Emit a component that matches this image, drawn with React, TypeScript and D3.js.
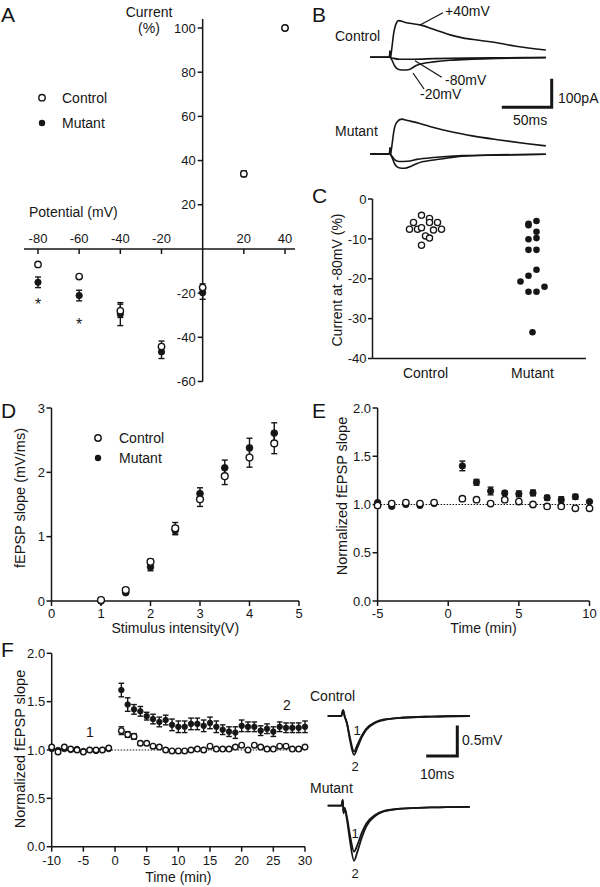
import React from "react";
import * as d3 from "d3";

const FONT = '"Liberation Sans", Arial, Helvetica, sans-serif';
const INK = "#161616";

// ---------------- Panel A : I-V relation ----------------
const ivPotential = [-80, -60, -40, -20, 0, 20, 40];
const ivControl = [-7, -12.5, -28, -44.2, -17.5, 34, 100];
const ivControlErr = [0, 0, 3, 2.5, 1.7, 1.2, 0];
const ivMutant = [-15.1, -21.1, -29.5, -46.6, -19.8, 34, 100];
const ivMutantErr = [2.4, 2.4, 5.2, 3, 3, 1.2, 0];
const ivStarPotential = [-80, -60];
const ivStarLevel = [-24.6, -33.3];
const ivXTicks = [-80, -60, -40, -20, 20, 40];
const ivYTicks = [-60, -40, -20, 20, 40, 60, 80, 100];

// ---------------- Panel B : current traces (ms, pA) ----------------
const bCtrlP40: [number, number][] = [[-20.5, 0], [-0.5, 0], [0, 22], [0.6, 2], [2, 37], [4, 93], [6, 122], [9, 136], [14, 131], [20, 126], [31, 120], [45, 104], [62, 83], [75, 72], [92, 63], [113, 52], [130, 41], [161, 27]];
const bCtrlM20: [number, number][] = [[-20.5, 0], [-0.5, 0], [0, 22], [0.6, 0], [2, -10], [5, -33], [9, -45], [14, -47], [20, -45], [27, -30], [35, -22], [45, -17], [62, -11], [85, -7], [113, -4], [161, -1]];
const bCtrlM80: [number, number][] = [[-20.5, 0], [-0.5, 0], [0, 22], [0.6, 0], [4, -4], [10, -7], [25, -7], [45, -5], [80, -3], [120, -1.5], [161, -0.5]];
const bMutP40: [number, number][] = [[-20.5, 0], [-0.5, 0], [0, 22], [0.6, 2], [2, 32], [4, 85], [7, 118], [12, 129], [18, 124], [30, 114], [45, 98], [62, 83], [85, 67], [113, 52], [140, 39], [161, 30]];
const bMutM80: [number, number][] = [[-20.5, 0], [-0.5, 0], [0, 22], [0.6, 0], [2, -8], [5, -22], [9, -28], [18, -27], [28, -20], [45, -13], [75, -6], [110, -3], [161, -1]];
const bMutM20: [number, number][] = [[-20.5, 0], [-0.5, 0], [0, 22], [0.6, 0], [2, -12], [5, -38], [9, -51], [15, -53], [22, -45], [28, -35], [45, -22], [62, -14], [75, -8], [110, -4], [161, -1]];
const bScaleMs = 50;
const bScalePa = 100;

// ---------------- Panel C : current at -80 mV ----------------
const cGroups = ["Control", "Mutant"];
const cControlPct = [-4.1, -4.9, -5.9, -5.9, -5.9, -7.6, -7.6, -7.2, -7.8, -7.6, -9.25, -9.8, -11.6];
const cControlSlot = [-1, 1, -3, 1, 3, -4, -2, -1, 2, 4, 0, 1, -1];
const cMutantPct = [-5.5, -6.2, -6.6, -8.2, -9.8, -10.1, -12.75, -12.75, -17.75, -19.25, -20.7, -22, -23.25, -23.25, -33.4];
const cMutantSlot = [1, -1, -1, 1, 1, -1, -1, 1, 1, -1, -3, 3, -1, 1, 0];
const cYTicks = [0, -10, -20, -30, -40];

// ---------------- Panel D : input-output ----------------
const ioIntensity = [1, 1.5, 2, 2.5, 3, 3.5, 4, 4.5];
const ioControl = [0.015, 0.17, 0.61, 1.13, 1.58, 1.94, 2.23, 2.45];
const ioControlErr = [0.01, 0.03, 0.04, 0.09, 0.11, 0.13, 0.15, 0.16];
const ioMutant = [0.0, 0.13, 0.53, 1.1, 1.67, 2.07, 2.38, 2.61];
const ioMutantErr = [0.01, 0.02, 0.06, 0.07, 0.09, 0.12, 0.15, 0.16];
const dXTicks = [0, 1, 2, 3, 4, 5];
const dYTicks = [0, 1, 2, 3];

// ---------------- Panel E : PTP ----------------
const eTime = [-5, -4, -3, -2, -1, 1, 2, 3, 4, 5, 6, 7, 8, 9, 10];
const eControl = [0.99, 1.01, 1.02, 1.01, 1.02, 1.06, 1.05, 1.01, 1.05, 1.03, 1.0, 0.98, 0.98, 0.96, 0.96];
const eControlErr = [0.01, 0.01, 0.01, 0.01, 0.01, 0.02, 0.01, 0.01, 0.01, 0.01, 0.01, 0.01, 0.01, 0.01, 0.01];
const eMutant = [1.02, 0.98, 1.0, 0.99, 1.01, 1.4, 1.23, 1.14, 1.12, 1.11, 1.12, 1.07, 1.05, 1.08, 1.03];
const eMutantErr = [0.01, 0.01, 0.01, 0.01, 0.01, 0.05, 0.03, 0.04, 0.02, 0.03, 0.03, 0.025, 0.03, 0.025, 0.01];
const eXTicks = [-5, 0, 5, 10];
const eYTicks = [0, 0.5, 1, 1.5, 2];

// ---------------- Panel F : LTP ----------------
const fTime = [-10, -9, -8, -7, -6, -5, -4, -3, -2, -1, 1, 2, 3, 4, 5, 6, 7, 8, 9, 10, 11, 12, 13, 14, 15, 16, 17, 18, 19, 20, 21, 22, 23, 24, 25, 26, 27, 28, 29, 30];
const fControl = [1.03, 0.98, 1.03, 1.01, 1.0, 0.98, 1.0, 1.0, 1.0, 1.02, 1.2, 1.16, 1.14, 1.07, 1.07, 1.04, 1.03, 1.0, 0.99, 0.99, 0.99, 1.0, 1.01, 1.0, 1.04, 1.01, 1.01, 1.01, 1.03, 1.05, 1.0, 1.05, 1.03, 1.01, 1.01, 1.04, 1.04, 1.01, 1.01, 1.03];
const fControlErr = [0.01, 0.01, 0.01, 0.01, 0.01, 0.01, 0.01, 0.01, 0.01, 0.01, 0.04, 0.03, 0.03, 0.02, 0.015, 0.015, 0.01, 0.01, 0.01, 0.01, 0.01, 0.01, 0.01, 0.01, 0.01, 0.01, 0.01, 0.01, 0.01, 0.01, 0.01, 0.01, 0.01, 0.01, 0.01, 0.01, 0.01, 0.015, 0.015, 0.01];
const fMutant = [1.01, 1.0, 1.01, 1.0, 1.01, 0.99, 1.0, 0.99, 1.0, 1.01, 1.62, 1.47, 1.42, 1.4, 1.35, 1.32, 1.29, 1.31, 1.26, 1.24, 1.24, 1.27, 1.27, 1.25, 1.28, 1.24, 1.21, 1.19, 1.18, 1.25, 1.24, 1.24, 1.2, 1.22, 1.19, 1.24, 1.23, 1.23, 1.23, 1.24];
const fMutantErr = [0.01, 0.01, 0.01, 0.01, 0.01, 0.01, 0.01, 0.01, 0.01, 0.01, 0.07, 0.07, 0.05, 0.05, 0.04, 0.05, 0.05, 0.05, 0.06, 0.06, 0.06, 0.06, 0.06, 0.06, 0.06, 0.06, 0.05, 0.05, 0.06, 0.06, 0.05, 0.05, 0.05, 0.05, 0.05, 0.05, 0.05, 0.05, 0.05, 0.06];
const fXTicks = [-10, -5, 0, 5, 10, 15, 20, 25, 30];
const fYTicks = [0, 0.5, 1, 1.5, 2];

// fEPSP traces (ms, mV)
const fCtrl1: [number, number][] = [[0, 0], [4.6, 0], [5.2, 0.1], [5.7, 0], [6.5, -0.12], [7.5, -0.37], [8.9, -0.61], [10, -0.5], [11.5, -0.34], [13, -0.22], [16, -0.11], [19, -0.06], [25, -0.03], [35, -0.01], [48, 0]];
const fCtrl2: [number, number][] = [[0, 0], [4.6, 0], [5.2, 0.1], [5.7, 0], [6.5, -0.13], [7.5, -0.41], [8.9, -0.67], [10, -0.55], [11.5, -0.37], [13, -0.24], [16, -0.12], [19, -0.07], [25, -0.03], [35, -0.01], [48, 0]];
const fMut1: [number, number][] = [[0, 0], [4.6, 0], [5.1, 0.1], [5.35, -0.13], [5.7, -0.04], [6.5, -0.2], [7.5, -0.5], [8.9, -0.79], [10, -0.68], [11.5, -0.47], [13, -0.31], [16, -0.16], [19, -0.09], [25, -0.05], [35, -0.03], [48, -0.02]];
const fMut2: [number, number][] = [[0, 0], [4.6, 0], [5.1, 0.1], [5.35, -0.13], [5.7, -0.04], [6.5, -0.24], [7.5, -0.6], [8.9, -0.95], [10, -0.8], [11.5, -0.55], [13, -0.36], [16, -0.18], [19, -0.1], [25, -0.05], [35, -0.03], [48, -0.02]];
const fScaleMs = 10;
const fScaleMv = 0.5;

type Lin = d3.ScaleLinear<number, number>;

const fmtInt = (t: number) => String(t);
const fmt1 = (t: number) => (t < 0 ? "-" : "") + Math.abs(t).toFixed(1);

function LeftAxis({ y, x, ticks, fmt, top, bottom, size = 13, len = 5 }: { y: Lin; x: number; ticks: number[]; fmt: (t: number) => string; top: number; bottom: number; size?: number; len?: number }) {
  return (
    <g>
      <line x1={x} x2={x} y1={top} y2={bottom} stroke={INK} strokeWidth={1.5} />
      {ticks.map((t) => (
        <g key={t}>
          <line x1={x - len} x2={x} y1={y(t)} y2={y(t)} stroke={INK} strokeWidth={1.5} />
          <text x={x - len - 1.5} y={y(t) + size * 0.36} fontSize={size} textAnchor="end" fill={INK}>{fmt(t)}</text>
        </g>
      ))}
    </g>
  );
}

function BottomAxis({ x, y0, ticks, fmt, left, right, size = 13, len = 5, labelY }: { x: Lin; y0: number; ticks: number[]; fmt: (t: number) => string; left: number; right: number; size?: number; len?: number; labelY: number }) {
  return (
    <g>
      <line x1={left} x2={right} y1={y0} y2={y0} stroke={INK} strokeWidth={1.5} />
      {ticks.map((t) => (
        <g key={t}>
          <line x1={x(t)} x2={x(t)} y1={y0} y2={y0 + len} stroke={INK} strokeWidth={1.5} />
          <text x={x(t)} y={labelY} fontSize={size} textAnchor="middle" fill={INK}>{fmt(t)}</text>
        </g>
      ))}
    </g>
  );
}

function ErrBar({ x, ya, yb, cap = 3, w = 1.4 }: { x: number; ya: number; yb: number; cap?: number; w?: number }) {
  return (
    <g stroke={INK} strokeWidth={w}>
      <line x1={x} x2={x} y1={ya} y2={yb} />
      <line x1={x - cap} x2={x + cap} y1={ya} y2={ya} />
      <line x1={x - cap} x2={x + cap} y1={yb} y2={yb} />
    </g>
  );
}

function Series({ xs, ys, errs, sx, sy, filled, r, cap = 3 }: { xs: number[]; ys: number[]; errs: number[]; sx: Lin; sy: Lin; filled: boolean; r: number; cap?: number }) {
  return (
    <g>
      {xs.map((xv, i) =>
        errs[i] > 0 ? <ErrBar key={"e" + i} x={sx(xv)} ya={sy(ys[i] + errs[i])} yb={sy(ys[i] - errs[i])} cap={cap} /> : null
      )}
      {xs.map((xv, i) => (
        <circle key={"c" + i} cx={sx(xv)} cy={sy(ys[i])} r={r} fill={filled ? INK : "#fff"} stroke={INK} strokeWidth={filled ? 0.8 : 1.4} />
      ))}
    </g>
  );
}

function Trace({ pts, sx, sy, w = 1.5 }: { pts: [number, number][]; sx: Lin; sy: Lin; w?: number }) {
  const gen = d3.line<[number, number]>().x((d) => sx(d[0])).y((d) => sy(d[1])).curve(d3.curveMonotoneX);
  return <path d={gen(pts) || ""} fill="none" stroke={INK} strokeWidth={w} strokeLinejoin="round" />;
}

export default function App() {
  // ---- A scales ----
  const ax = d3.scaleLinear().domain([-80, 40]).range([38, 285]);
  const ay = d3.scaleLinear().domain([-60, 100]).range([381.5, 28]);
  const ay0 = ay(0);

  // ---- B scales ----
  const bx = d3.scaleLinear().domain([0, 50]).range([390, 438.4]);
  const byC = d3.scaleLinear().domain([0, 100]).range([57.3, 30.3]);
  const byM = d3.scaleLinear().domain([0, 100]).range([154, 127]);
  const bBarX = 551.7;
  const bBarY = 107.3;

  // ---- C scales ----
  const cx = d3.scalePoint<string>().domain(cGroups).range([372, 586]).padding(0.5);
  const cy = d3.scaleLinear().domain([-40, 0]).range([358.5, 199]);
  const slotW = 4;

  // ---- D scales ----
  const dx = d3.scaleLinear().domain([0, 5]).range([51.5, 299]);
  const dy = d3.scaleLinear().domain([0, 3]).range([601, 408]);

  // ---- E scales ----
  const ex = d3.scaleLinear().domain([-5, 10]).range([377.6, 589.5]);
  const ey = d3.scaleLinear().domain([0, 2]).range([601, 408]);

  // ---- F scales ----
  const fx = d3.scaleLinear().domain([-10, 30]).range([51.7, 305]);
  const fy = d3.scaleLinear().domain([0, 2]).range([846.7, 653.3]);
  const tx = d3.scaleLinear().domain([0, 10]).range([327.7, 357.3]);
  const tyC = d3.scaleLinear().domain([0, 0.5]).range([716, 687]);
  const tyM = d3.scaleLinear().domain([0, 0.5]).range([805.7, 776.7]);
  const fBarX = 457.3;
  const fBarY = 756;

  const letter = (s: string, x: number, y: number) => (
    <text x={x} y={y} fontSize={21} fill={INK}>{s}</text>
  );

  return (
    <svg width={600} height={887} viewBox="0 0 600 887" style={{ position: "absolute", left: 0, top: 0 }} fontFamily={FONT}>
      <rect width={600} height={887} fill="#fff" />

      {/* ================= A ================= */}
      {letter("A", 1, 22)}
      <text x={149} y={16.5} fontSize={14} textAnchor="middle" fill={INK}>Current</text>
      <text x={149} y={33} fontSize={14} textAnchor="middle" fill={INK}>(%)</text>
      <text x={29} y={217} fontSize={14} fill={INK}>Potential (mV)</text>
      <g>
        <line x1={ax(0)} x2={ax(0)} y1={19} y2={ay(-60)} stroke={INK} strokeWidth={1.5} />
        {ivYTicks.map((t) => (
          <g key={t}>
            <line x1={ax(0) - 5} x2={ax(0)} y1={ay(t)} y2={ay(t)} stroke={INK} strokeWidth={1.5} />
            <text x={ax(0) - 7} y={ay(t) + 4.7} fontSize={13} textAnchor="end" fill={INK}>{fmtInt(t)}</text>
          </g>
        ))}
      </g>
      <g>
        <line x1={24} x2={295} y1={ay0} y2={ay0} stroke={INK} strokeWidth={1.5} />
        {ivXTicks.map((t) => (
          <g key={t}>
            <line x1={ax(t)} x2={ax(t)} y1={ay0} y2={ay0 + 5} stroke={INK} strokeWidth={1.5} />
            <text x={ax(t)} y={ay0 - 5.5} fontSize={13} textAnchor="middle" fill={INK}>{fmtInt(t)}</text>
          </g>
        ))}
      </g>
      <Series xs={ivPotential} ys={ivMutant} errs={ivMutantErr} sx={ax} sy={ay} filled r={3.2} />
      <Series xs={ivPotential} ys={ivControl} errs={ivControlErr} sx={ax} sy={ay} filled={false} r={3.2} />
      {ivStarPotential.map((p, i) => (
        <text key={p} x={ax(p)} y={ay(ivStarLevel[i]) + 7} fontSize={16} textAnchor="middle" fill={INK}>*</text>
      ))}
      <circle cx={42} cy={97.7} r={3.2} fill="#fff" stroke={INK} strokeWidth={1.4} />
      <text x={62} y={102.5} fontSize={14} fill={INK}>Control</text>
      <circle cx={42} cy={123} r={3.2} fill={INK} />
      <text x={62} y={128} fontSize={14} fill={INK}>Mutant</text>

      {/* ================= B ================= */}
      {letter("B", 312, 22)}
      <text x={335} y={40.5} fontSize={14} fill={INK}>Control</text>
      <text x={335} y={136} fontSize={14} fill={INK}>Mutant</text>
      <Trace pts={bCtrlM80} sx={bx} sy={byC} w={1.6} />
      <Trace pts={bCtrlM20} sx={bx} sy={byC} w={1.6} />
      <Trace pts={bCtrlP40} sx={bx} sy={byC} w={1.6} />
      <Trace pts={bMutM80} sx={bx} sy={byM} w={1.6} />
      <Trace pts={bMutM20} sx={bx} sy={byM} w={1.6} />
      <Trace pts={bMutP40} sx={bx} sy={byM} w={1.6} />
      <g stroke={INK} strokeWidth={1.3}>
        <line x1={420} y1={25} x2={443} y2={12.7} />
        <line x1={415} y1={60.7} x2={441.7} y2={77.3} />
        <line x1={413} y1={73} x2={424} y2={89} />
      </g>
      <text x={445} y={15.5} fontSize={14} fill={INK}>+40mV</text>
      <text x={445} y={84.5} fontSize={14} fill={INK}>-80mV</text>
      <text x={420} y={98.5} fontSize={14} fill={INK}>-20mV</text>
      <path
        d={`M${bBarX - (bx(bScaleMs) - bx(0))},${bBarY} H${bBarX} V${bBarY - (byC(0) - byC(bScalePa))}`}
        fill="none" stroke={INK} strokeWidth={3} strokeLinecap="square"
      />
      <text x={558} y={103} fontSize={14} fill={INK}>100pA</text>
      <text x={513} y={125} fontSize={14} fill={INK}>50ms</text>

      {/* ================= C ================= */}
      {letter("C", 312, 203)}
      <LeftAxis y={cy} x={372.5} ticks={cYTicks} fmt={fmtInt} top={cy(0)} bottom={cy(-40)} len={4.5} />
      <line x1={372.5} x2={586} y1={cy(-40)} y2={cy(-40)} stroke={INK} strokeWidth={1.5} />
      {cGroups.map((g) => (
        <text key={g} x={cx(g)!} y={378} fontSize={14} textAnchor="middle" fill={INK}>{g}</text>
      ))}
      <text transform={`translate(342,280) rotate(-90)`} fontSize={14} textAnchor="middle" fill={INK}>Current at -80mV (%)</text>
      {cControlPct.map((v, i) => (
        <circle key={"cc" + i} cx={cx("Control")! + cControlSlot[i] * slotW} cy={cy(v)} r={3.1} fill="#fff" stroke={INK} strokeWidth={1.3} />
      ))}
      {cMutantPct.map((v, i) => (
        <circle key={"cm" + i} cx={cx("Mutant")! + cMutantSlot[i] * slotW} cy={cy(v)} r={3.3} fill={INK} />
      ))}

      {/* ================= D ================= */}
      {letter("D", 1, 418)}
      <LeftAxis y={dy} x={dx(0)} ticks={dYTicks} fmt={fmtInt} top={dy(3)} bottom={dy(0)} />
      <BottomAxis x={dx} y0={dy(0)} ticks={dXTicks} fmt={fmtInt} left={dx(0)} right={dx(5)} labelY={618} />
      <text x={dx(2.5)} y={633} fontSize={14} textAnchor="middle" fill={INK}>Stimulus intensity(V)</text>
      <text transform={`translate(25,498) rotate(-90)`} fontSize={14.5} textAnchor="middle" fill={INK}>fEPSP slope (mV/ms)</text>
      <Series xs={ioIntensity} ys={ioMutant} errs={ioMutantErr} sx={dx} sy={dy} filled r={3.4} />
      <Series xs={ioIntensity} ys={ioControl} errs={ioControlErr} sx={dx} sy={dy} filled={false} r={3.4} />
      <circle cx={98} cy={438} r={3.2} fill="#fff" stroke={INK} strokeWidth={1.4} />
      <text x={119} y={443} fontSize={14} fill={INK}>Control</text>
      <circle cx={98} cy={458} r={3.2} fill={INK} />
      <text x={119} y={463} fontSize={14} fill={INK}>Mutant</text>

      {/* ================= E ================= */}
      {letter("E", 312, 418)}
      <LeftAxis y={ey} x={ex(-5)} ticks={eYTicks} fmt={fmt1} top={ey(2)} bottom={ey(0)} />
      <BottomAxis x={ex} y0={ey(0)} ticks={eXTicks} fmt={fmtInt} left={ex(-5)} right={ex(10)} labelY={618} />
      <text x={ex(2.5)} y={633} fontSize={14} textAnchor="middle" fill={INK}>Time (min)</text>
      <text transform={`translate(347,496) rotate(-90)`} fontSize={14.5} textAnchor="middle" fill={INK}>Normalized fEPSP slope</text>
      <line x1={ex(-5)} x2={ex(10)} y1={ey(1)} y2={ey(1)} stroke={INK} strokeWidth={1} strokeDasharray="1.5,1.5" />
      <Series xs={eTime} ys={eMutant} errs={eMutantErr} sx={ex} sy={ey} filled r={3.2} />
      <Series xs={eTime} ys={eControl} errs={eControlErr} sx={ex} sy={ey} filled={false} r={3.2} />

      {/* ================= F ================= */}
      {letter("F", 1, 657)}
      <LeftAxis y={fy} x={fx(-10)} ticks={fYTicks} fmt={fmt1} top={fy(2)} bottom={fy(0)} />
      <BottomAxis x={fx} y0={fy(0)} ticks={fXTicks} fmt={fmtInt} left={fx(-10)} right={fx(30)} labelY={865} />
      <text x={fx(10)} y={882} fontSize={14} textAnchor="middle" fill={INK}>Time (min)</text>
      <text transform={`translate(25,749) rotate(-90)`} fontSize={14.5} textAnchor="middle" fill={INK}>Normalized fEPSP slope</text>
      <line x1={fx(-10)} x2={fx(30)} y1={fy(1)} y2={fy(1)} stroke={INK} strokeWidth={1} strokeDasharray="1.5,1.5" />
      <Series xs={fTime} ys={fMutant} errs={fMutantErr} sx={fx} sy={fy} filled r={2.8} cap={2.8} />
      <Series xs={fTime} ys={fControl} errs={fControlErr} sx={fx} sy={fy} filled={false} r={2.8} cap={2.8} />
      <text x={90} y={737} fontSize={14} textAnchor="middle" fill={INK}>1</text>
      <text x={287} y={710} fontSize={14} textAnchor="middle" fill={INK}>2</text>

      <text x={310} y={701} fontSize={14} fill={INK}>Control</text>
      <text x={310} y={793} fontSize={14} fill={INK}>Mutant</text>
      <Trace pts={fCtrl1} sx={tx} sy={tyC} w={1.8} />
      <Trace pts={fCtrl2} sx={tx} sy={tyC} w={1.8} />
      <Trace pts={fMut1} sx={tx} sy={tyM} w={1.8} />
      <Trace pts={fMut2} sx={tx} sy={tyM} w={1.8} />
      <text x={357} y={735} fontSize={13} textAnchor="middle" fill={INK}>1</text>
      <text x={355} y={771} fontSize={13} textAnchor="middle" fill={INK}>2</text>
      <text x={355} y={838} fontSize={13} textAnchor="middle" fill={INK}>1</text>
      <text x={355} y={878} fontSize={13} textAnchor="middle" fill={INK}>2</text>
      <path
        d={`M${fBarX - (tx(fScaleMs) - tx(0))},${fBarY} H${fBarX} V${fBarY - (tyC(0) - tyC(fScaleMv))}`}
        fill="none" stroke={INK} strokeWidth={3} strokeLinecap="square"
      />
      <text x={462} y={745} fontSize={14} fill={INK}>0.5mV</text>
      <text x={420} y={779} fontSize={14} fill={INK}>10ms</text>
    </svg>
  );
}
